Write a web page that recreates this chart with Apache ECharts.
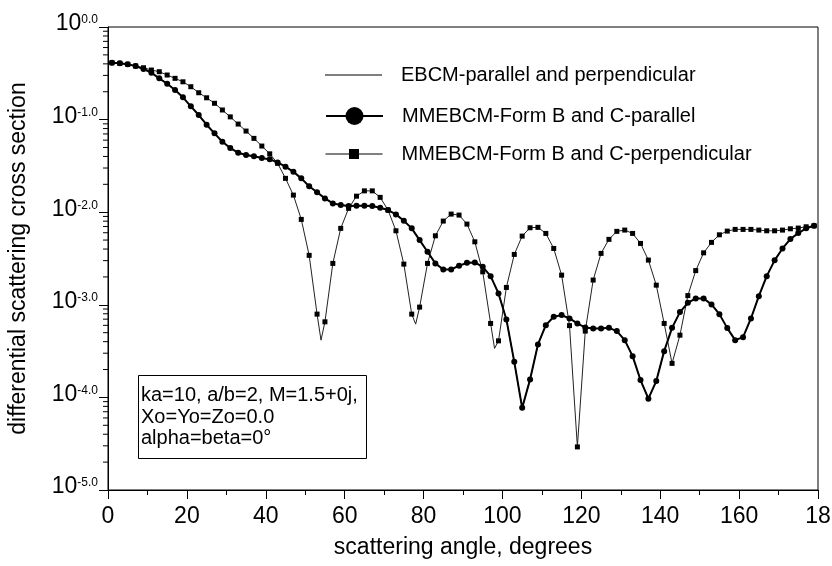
<!DOCTYPE html>
<html><head><meta charset="utf-8">
<script src="https://cdn.jsdelivr.net/npm/echarts@6/dist/echarts.min.js"></script>
<style>html,body{margin:0;padding:0;background:#fff}#c{width:832px;height:566px}</style>
</head><body><div id="c"></div>
<script>
const angles = [1,3,5,7,9,11,13,15,17,19,21,23,25,27,29,31,33,35,37,39,41,43,45,47,49,51,53,55,57,59,61,63,65,67,69,71,73,75,77,79,81,83,85,87,89,91,93,95,97,99,101,103,105,107,109,111,113,115,117,119,121,123,125,127,129,131,133,135,137,139,141,143,145,147,149,151,153,155,157,159,161,163,165,167,169,171,173,175,177,179];
const parallel = [0.411,0.405,0.395,0.379,0.352,0.321,0.279,0.244,0.209,0.174,0.139,0.112,0.0880,0.0711,0.0576,0.0493,0.0439,0.0414,0.0401,0.0384,0.0372,0.0345,0.0310,0.0273,0.0232,0.0191,0.0164,0.0141,0.01245,0.01194,0.01165,0.01173,0.01173,0.01165,0.01116,0.01054,0.00947,0.00808,0.00669,0.00500,0.00374,0.00280,0.00241,0.00241,0.00264,0.00284,0.00287,0.00257,0.00204,0.001327,0.000695,0.000242,0.0000771,0.000156,0.000373,0.000603,0.000742,0.000774,0.000712,0.000629,0.000567,0.000556,0.000556,0.000564,0.000520,0.000415,0.000279,0.000154,0.0000969,0.000150,0.000316,0.000564,0.000834,0.00105,0.00117,0.00117,0.00101,0.000793,0.000560,0.000415,0.000447,0.000712,0.00124,0.00204,0.00302,0.00406,0.00513,0.00595,0.00669,0.00713];
const perpendicular = [0.411,0.405,0.395,0.379,0.363,0.343,0.329,0.303,0.279,0.256,0.2265,0.195,0.172,0.150,0.127,0.107,0.0895,0.0752,0.0627,0.0518,0.0427,0.0337,0.0232,0.0153,0.00836,0.00342,0.000793,0.000655,0.00280,0.00669,0.0110,0.0149,0.0170,0.0170,0.01446,0.01054,0.00630,0.00275,0.000793,0.000944,0.00280,0.00556,0.00802,0.00954,0.00931,0.00744,0.00479,0.00227,0.000629,0.000408,0.00154,0.00350,0.00552,0.00679,0.00686,0.00590,0.00406,0.00209,0.000596,0.0000292,0.000520,0.00185,0.00359,0.00509,0.00621,0.00641,0.00590,0.00460,0.00304,0.00163,0.000629,0.000233,0.000470,0.001257,0.00234,0.00364,0.00472,0.00570,0.00625,0.00652,0.00652,0.00652,0.00641,0.00630,0.00630,0.00641,0.00662,0.00674,0.00696,0.00713];
const ebcmDipAngles = [54, 78, 98];
const ebcmDipValues = [0.000415, 0.000618, 0.000338];
const xTickLabels = ['0','20','40','60','80','100','120','140','160','18'];
const yTickExponents = ['-5.0','-4.0','-3.0','-2.0','-1.0','0.0'];
const seriesNames = ['EBCM-parallel and perpendicular','MMEBCM-Form B and C-parallel','MMEBCM-Form B and C-perpendicular'];
const boxLines = ['ka=10, a/b=2, M=1.5+0j,','Xo=Yo=Zo=0.0','alpha=beta=0\u00b0'];
const xTitle = 'scattering angle, degrees';
const yTitle = 'differential scattering cross section';

const FONT = 'Liberation Sans, Arial, sans-serif';
const parData = angles.map((a, i) => [a, parallel[i]]);
const perpData = angles.map((a, i) => [a, perpendicular[i]]);
const ebcmPerp = perpData.concat(ebcmDipAngles.map((a, i) => [a, ebcmDipValues[i]])).sort((p, q) => p[0] - q[0]);
const minorVals = [];
for (let d = -5; d < 0; d++) for (let k = 2; k <= 9; k++) minorVals.push([0, k * Math.pow(10, d)]);

const chart = echarts.init(document.getElementById('c'), null, {renderer: 'canvas'});
const legendBase = {
  orient: 'vertical', left: 325, padding: 0, itemWidth: 57, selectedMode: false,
  textStyle: {fontSize: 20, fontFamily: FONT, color: '#000', lineHeight: 24, padding: [4, 0, 0, 14]}
};
chart.setOption({
  animation: false,
  backgroundColor: '#fff',
  grid: {left: 108, right: 14, top: 27, bottom: 76, show: true, borderColor: '#000', borderWidth: 1, containLabel: false, outerBoundsMode: 'none'},
  xAxis: {
    type: 'value', min: 0, max: 180, interval: 20,
    name: xTitle, nameLocation: 'middle', nameGap: 46,
    nameTextStyle: {fontSize: 23, fontFamily: FONT, color: '#000'},
    axisLine: {lineStyle: {color: '#000', width: 1}},
    axisTick: {inside: false, length: 9, lineStyle: {color: '#000'}},
    minorTick: {show: true, splitNumber: 2, length: 5, lineStyle: {color: '#000'}},
    splitLine: {show: false},
    axisLabel: {fontSize: 23, fontFamily: FONT, color: '#000', margin: 15, formatter: v => xTickLabels[Math.round(v / 20)]}
  },
  yAxis: {
    type: 'log', logBase: 10, min: 1e-5, max: 1,
    name: yTitle, nameLocation: 'middle', nameGap: 78,
    nameTextStyle: {fontSize: 23, fontFamily: FONT, color: '#000'},
    axisLine: {lineStyle: {color: '#000', width: 1}},
    axisTick: {inside: false, length: 9, lineStyle: {color: '#000'}},
    splitLine: {show: false},
    axisLabel: {
      margin: 10, color: '#000',
      formatter: v => '{b|10}{s|' + yTickExponents[Math.round(Math.log10(v)) + 5] + '}',
      rich: {
        b: {fontSize: 23, fontFamily: FONT, color: '#000', lineHeight: 26, padding: [0, 0, 6, 0]},
        s: {fontSize: 12, fontFamily: FONT, color: '#000', verticalAlign: 'top', lineHeight: 14}
      }
    }
  },
  legend: [
    Object.assign({}, legendBase, {data: [{name: seriesNames[0], icon: 'rect'}], top: 61, itemHeight: 1}),
    Object.assign({}, legendBase, {data: [seriesNames[1]], top: 102, itemHeight: 22.5}),
    Object.assign({}, legendBase, {data: [seriesNames[2]], top: 140, itemHeight: 12.5, lineStyle: {opacity: 1, width: 1, color: '#000'}})
  ],
  series: [
    {name: seriesNames[0], type: 'line', data: parData, symbol: 'none', color: '#000', lineStyle: {color: '#000', width: 1}, z: 2},
    {name: seriesNames[0], type: 'line', data: ebcmPerp, symbol: 'none', color: '#000', lineStyle: {color: '#222', width: 1}, z: 2},
    {name: seriesNames[1], type: 'line', data: parData, symbol: 'circle', symbolSize: 6, showAllSymbol: true, color: '#000',
      itemStyle: {color: '#000'}, lineStyle: {color: '#000', width: 2}, z: 3},
    {name: seriesNames[2], type: 'line', data: perpData, symbol: 'rect', symbolSize: 5, showAllSymbol: true, color: '#000',
      itemStyle: {color: '#000'}, lineStyle: {color: '#000', width: 1, opacity: 0}, z: 4},
    {type: 'custom', data: minorVals, silent: true, clip: false, z: 5,
      renderItem: (params, api) => {
        const p = api.coord([0, api.value(1)]);
        return {type: 'line', shape: {x1: p[0] - 5, y1: p[1], x2: p[0], y2: p[1]}, style: {stroke: '#000', lineWidth: 1}};
      }}
  ],
  graphic: [
    {type: 'rect', left: 138, top: 375, shape: {width: 228, height: 83}, style: {fill: '#fff', stroke: '#000', lineWidth: 1}, z: 10},
    {type: 'text', left: 141, top: 385, style: {text: boxLines.join('\n'), font: '20px ' + FONT, fill: '#000', lineHeight: 21.5}, z: 11}
  ]
});
</script></body></html>
